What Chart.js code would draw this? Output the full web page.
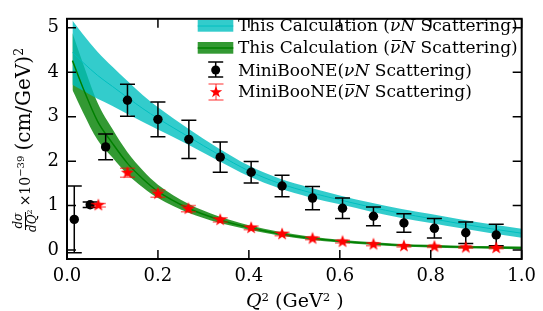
<!DOCTYPE html>
<html>
<head>
<meta charset="utf-8">
<script src="https://cdn.jsdelivr.net/npm/chart.js@4.4.1/dist/chart.umd.min.js"></script>
<style>
  body { margin: 0; background: #fff; }
  #wrap { position: relative; width: 543px; height: 311px; font-family: "DejaVu Serif", serif; color: #000; }
  #chart { position: absolute; left: 0; top: 0; }
  .lg { position: absolute; left: 238px; height: 20px; line-height: 20px; font-size: 17px; white-space: nowrap; }
  .hd { position: absolute; left: 196px; }
  .ob { position: relative; }
  .ob::after { content: ''; position: absolute; left: 0.12em; right: -0.05em; top: 0.2em; border-top: 1px solid #000; }
  #xtitle { position: absolute; left: 246px; top: 286px; font-size: 19px; line-height: 22px; white-space: nowrap; }
  #xtitle sup, .big sup { font-size: 0.62em; vertical-align: 0.55em; }
  #ytitle { position: absolute; left: 25px; top: 140px; transform: translate(-50%, -50%) rotate(-90deg); white-space: nowrap; line-height: 1; }
  .big { font-size: 20px; }
  .small { font-size: 14px; }
  .small sup { font-size: 10px; vertical-align: 0.6em; }
  .frac { display: inline-flex; flex-direction: column; align-items: center; vertical-align: middle; font-size: 12px; font-style: italic; margin-right: 3px; }
  .frac .num { border-bottom: 1.5px solid #000; padding: 0 1px 1px; }
  .frac .den sup { font-size: 8px; font-style: normal; vertical-align: 0.5em; }
</style>
</head>
<body>
<div id="wrap">
  <canvas id="chart" width="543" height="311"></canvas>

  <svg class="hd" style="top:16px" width="40" height="20">
    <rect x="1.7" y="4" width="35.6" height="11.7" fill="rgba(0,191,191,0.8)"/>
    <line x1="1.7" x2="37.3" y1="10" y2="10" stroke="#00bfbf" stroke-width="1"/>
  </svg>
  <svg class="hd" style="top:37.5px" width="40" height="20">
    <rect x="1.7" y="4" width="35.6" height="11.7" fill="rgba(0,128,0,0.8)"/>
    <line x1="1.7" x2="37.3" y1="10" y2="10" stroke="#008000" stroke-width="1.5"/>
  </svg>
  <svg class="hd" style="top:59.5px" width="40" height="20">
    <g stroke="#000" stroke-width="1.5">
      <line x1="19.7" x2="19.7" y1="2" y2="17"/>
      <line x1="12.2" x2="27.2" y1="2" y2="2"/>
      <line x1="12.2" x2="27.2" y1="17" y2="17"/>
    </g>
    <circle cx="19.7" cy="10" r="4.5" fill="#000"/>
  </svg>
  <svg class="hd" style="top:81.5px" width="40" height="20">
    <g stroke="rgba(255,0,0,0.55)" stroke-width="1.5">
      <line x1="20" x2="20" y1="2" y2="18"/>
      <line x1="12.5" x2="27.5" y1="2" y2="2"/>
      <line x1="12.5" x2="27.5" y1="18" y2="18"/>
    </g>
    <polygon fill="#f00" points="20,4 21.6,8.2 26.2,8.2 22.5,10.9 23.9,15.2 20,12.6 16.1,15.2 17.5,10.9 13.8,8.2 18.4,8.2"/>
  </svg>

  <div class="lg" style="top:15px">This Calculation (<i>νN</i> Scattering)</div>
  <div class="lg" style="top:37px">This Calculation (<i><span class="ob">ν</span>N</i> Scattering)</div>
  <div class="lg" style="top:59.5px">MiniBooNE(<i>νN</i> Scattering)</div>
  <div class="lg" style="top:81px">MiniBooNE(<i><span class="ob">ν</span>N</i> Scattering)</div>

  <div id="xtitle"><i>Q</i><sup>2</sup> (GeV<sup>2</sup> )</div>
  <div id="ytitle"><span class="frac"><span class="num">dσ</span><span class="den">dQ<sup>2</sup></span></span><span class="small">×10<sup>−39</sup></span> <span class="big">(cm/GeV)<sup>2</sup></span></div>
</div>

<script>
// MiniBooNE nu N data
const nuQ2 = [0.016, 0.051, 0.085, 0.133, 0.2, 0.268, 0.337, 0.405, 0.473, 0.54, 0.606, 0.674, 0.741, 0.808, 0.877, 0.944];
const nuXsec = [0.69, 1.02, 2.32, 3.37, 2.94, 2.49, 2.09, 1.75, 1.44, 1.17, 0.94, 0.76, 0.61, 0.49, 0.39, 0.34];
const nuErr = [0.75, 0.06, 0.29, 0.36, 0.39, 0.43, 0.34, 0.24, 0.24, 0.26, 0.23, 0.21, 0.21, 0.22, 0.24, 0.24];

// MiniBooNE nubar N data
const nubarQ2 = [0.069, 0.133, 0.2, 0.267, 0.337, 0.405, 0.473, 0.54, 0.606, 0.674, 0.741, 0.808, 0.877, 0.944];
const nubarXsec = [1.01, 1.74, 1.27, 0.93, 0.68, 0.50, 0.36, 0.26, 0.19, 0.13, 0.09, 0.08, 0.06, 0.05];
const nubarErr = [0.04, 0.1, 0.08, 0.07, 0.05, 0.04, 0.04, 0.03, 0.03, 0.03, 0.02, 0.02, 0.02, 0.02];

// calculation bands
const bandQ2 = [0.012, 0.035, 0.067, 0.1, 0.133, 0.167, 0.2, 0.267, 0.333, 0.4, 0.467, 0.533, 0.6, 0.667, 0.733, 0.8, 0.867, 0.933, 1.0];
const nuLine  = [4.44, 4.22, 3.93, 3.68, 3.43, 3.18, 2.96, 2.55, 2.15, 1.78, 1.50, 1.30, 1.13, 0.97, 0.83, 0.71, 0.59, 0.48, 0.38];
const nuUpper = [5.16, 4.85, 4.46, 4.12, 3.80, 3.48, 3.21, 2.73, 2.29, 1.90, 1.61, 1.41, 1.23, 1.07, 0.93, 0.81, 0.69, 0.58, 0.48];
const nuLower = [3.72, 3.59, 3.40, 3.24, 3.06, 2.88, 2.71, 2.37, 2.01, 1.66, 1.39, 1.19, 1.03, 0.87, 0.73, 0.61, 0.49, 0.38, 0.28];
const nubarLine  = [4.26, 3.65, 2.90, 2.40, 1.95, 1.60, 1.32, 0.94, 0.69, 0.51, 0.37, 0.27, 0.20, 0.15, 0.11, 0.09, 0.07, 0.06, 0.05];
const nubarUpper = [4.88, 4.20, 3.32, 2.72, 2.20, 1.79, 1.47, 1.04, 0.76, 0.56, 0.41, 0.305, 0.23, 0.18, 0.14, 0.12, 0.10, 0.09, 0.08];
const nubarLower = [3.60, 3.10, 2.48, 2.08, 1.70, 1.41, 1.17, 0.84, 0.62, 0.46, 0.33, 0.235, 0.17, 0.12, 0.08, 0.06, 0.04, 0.03, 0.02];

const xTicks = [0, 0.2, 0.4, 0.6, 0.8, 1.0];
const yTicks = [0, 1, 2, 3, 4, 5];

function pts(xs, ys) {
    return xs.map((x, i) => ({x: x, y: ys[i]}));
}

// filled star used as point style for the nubar data
function starImage(r, color) {
    const c = document.createElement('canvas');
    const s = Math.ceil(r * 2 + 2);
    c.width = s; c.height = s;
    const g = c.getContext('2d');
    g.fillStyle = color;
    g.beginPath();
    for (let k = 0; k < 10; k++) {
        const rad = k % 2 == 0 ? r : r * 0.42;
        const a = -Math.PI / 2 + k * Math.PI / 5;
        const px = s / 2 + rad * Math.cos(a), py = s / 2 + rad * Math.sin(a);
        if (k == 0) g.moveTo(px, py); else g.lineTo(px, py);
    }
    g.closePath();
    g.fill();
    return c;
}

const errorBars = {
    id: 'errorBars',
    beforeDatasetDraw(chart, args) {
        const ds = chart.data.datasets[args.index];
        if (!ds.errors) return;
        const ctx = chart.ctx, x = chart.scales.x, y = chart.scales.y;
        ctx.save();
        ctx.strokeStyle = ds.errColor;
        ctx.lineWidth = 1.5;
        ds.data.forEach((p, i) => {
            const px = x.getPixelForValue(p.x);
            const top = y.getPixelForValue(p.y + ds.errors[i]);
            const bot = y.getPixelForValue(p.y - ds.errors[i]);
            ctx.beginPath();
            ctx.moveTo(px, top); ctx.lineTo(px, bot);
            ctx.moveTo(px - ds.cap, top); ctx.lineTo(px + ds.cap, top);
            ctx.moveTo(px - ds.cap, bot); ctx.lineTo(px + ds.cap, bot);
            ctx.stroke();
        });
        ctx.restore();
    }
};

// box frame with inward ticks on all four sides
const frame = {
    id: 'frame',
    afterDatasetsDraw(chart) {
        const ctx = chart.ctx, a = chart.chartArea, x = chart.scales.x, y = chart.scales.y;
        const len = 9;
        ctx.save();
        ctx.strokeStyle = '#000';
        ctx.lineWidth = 1.5;
        ctx.beginPath();
        xTicks.forEach(v => {
            const px = x.getPixelForValue(v);
            ctx.moveTo(px, a.bottom); ctx.lineTo(px, a.bottom - len);
            ctx.moveTo(px, a.top); ctx.lineTo(px, a.top + len);
        });
        yTicks.forEach(v => {
            const py = y.getPixelForValue(v);
            ctx.moveTo(a.left, py); ctx.lineTo(a.left + len, py);
            ctx.moveTo(a.right, py); ctx.lineTo(a.right - len, py);
        });
        ctx.stroke();
        ctx.lineWidth = 2;
        ctx.strokeRect(a.left, a.top, a.right - a.left, a.bottom - a.top);
        ctx.restore();
    }
};

const tickFont = {family: 'DejaVu Serif', size: 18};

new Chart('chart', {
    type: 'line',
    data: {
        datasets: [
            {data: pts(bandQ2, nuUpper), fill: '+1', backgroundColor: 'rgba(0,191,191,0.8)', borderColor: 'transparent', borderWidth: 0, pointRadius: 0, cubicInterpolationMode: 'monotone', order: 4},
            {data: pts(bandQ2, nuLower), fill: false, borderColor: 'transparent', borderWidth: 0, pointRadius: 0, cubicInterpolationMode: 'monotone', order: 4},
            {data: pts(bandQ2, nubarUpper), fill: '+1', backgroundColor: 'rgba(0,128,0,0.8)', borderColor: 'transparent', borderWidth: 0, pointRadius: 0, cubicInterpolationMode: 'monotone', order: 5},
            {data: pts(bandQ2, nubarLower), fill: false, borderColor: 'transparent', borderWidth: 0, pointRadius: 0, cubicInterpolationMode: 'monotone', order: 5},
            {data: pts(bandQ2, nuLine), fill: false, borderColor: '#00bfbf', borderWidth: 1, pointRadius: 0, cubicInterpolationMode: 'monotone', order: 2},
            {data: pts(bandQ2, nubarLine), fill: false, borderColor: '#008000', borderWidth: 1.5, pointRadius: 0, cubicInterpolationMode: 'monotone', order: 2},
            {data: pts(nuQ2, nuXsec), errors: nuErr, errColor: '#000', cap: 7.5, showLine: false, pointStyle: 'circle', pointRadius: 4.7, backgroundColor: '#000', borderWidth: 0, order: 1},
            {data: pts(nubarQ2, nubarXsec), errors: nubarErr, errColor: 'rgba(255,0,0,0.55)', cap: 7.5, showLine: false, pointStyle: starImage(6.8, '#f00'), pointRadius: 6, order: 0}
        ]
    },
    options: {
        responsive: false,
        animation: false,
        devicePixelRatio: 1,
        layout: {padding: {top: 8, right: 17, left: 0, bottom: 0}},
        plugins: {legend: {display: false}, tooltip: {enabled: false}},
        scales: {
            x: {
                type: 'linear', min: 0, max: 1,
                grid: {display: false, drawTicks: false}, border: {display: false},
                ticks: {stepSize: 0.2, includeBounds: false, autoSkip: false, maxRotation: 0, padding: 7, color: '#000', font: tickFont,
                    callback: v => v.toFixed(1)},
                afterFit: s => { s.height = 52; }
            },
            y: {
                min: -0.2, max: 5.2,
                grid: {display: false, drawTicks: false}, border: {display: false},
                ticks: {stepSize: 1, includeBounds: false, padding: 8, color: '#000', font: tickFont,
                    callback: v => v.toFixed(0)},
                afterFit: s => { s.width = 67; }
            }
        }
    },
    plugins: [errorBars, frame]
});
</script>
</body>
</html>
